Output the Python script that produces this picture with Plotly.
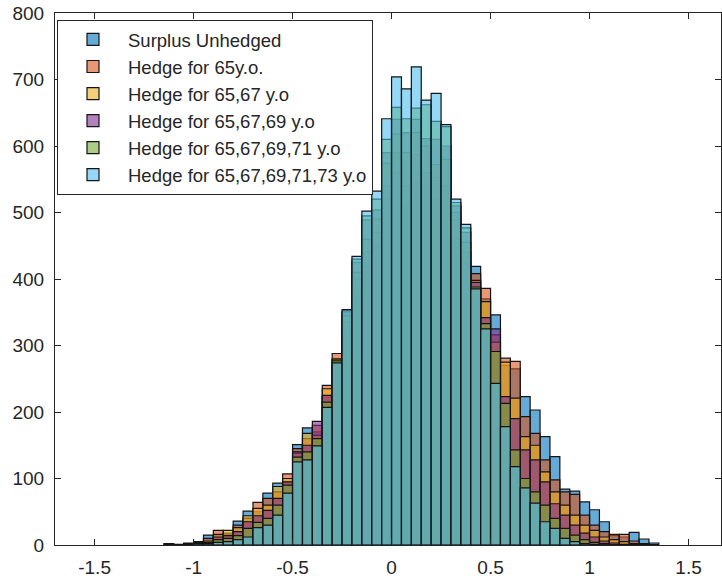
import plotly.graph_objects as go

# ---- data ----
bin_width = 0.05
first_edge = -1.15
n_bins = 50
bin_centers = [round(first_edge + bin_width * (i + 0.5), 4) for i in range(n_bins)]

series_names = [
    "Surplus Unhedged",
    "Hedge for 65y.o.",
    "Hedge for 65,67 y.o",
    "Hedge for 65,67,69 y.o",
    "Hedge for 65,67,69,71 y.o",
    "Hedge for 65,67,69,71,73 y.o",
]

unhedged = [2, 0, 3, 5, 15, 14, 16, 36, 51, 50, 78, 93, 95, 151, 176, 170, 222, 270,
            320, 380, 420, 450, 520, 560, 510, 545, 540, 520, 520, 460, 425,
            419, 370, 346, 270, 265, 223, 203, 163, 133, 84, 81, 65, 53, 35, 14, 12, 19, 9, 3]
hedge_65 = [0, 1, 2, 4, 10, 22, 18, 30, 40, 64, 70, 80, 107, 145, 160, 180, 240, 288,
            336, 400, 440, 470, 540, 590, 540, 587, 560, 553, 540, 489, 440,
            408, 386, 316, 281, 276, 193, 168, 128, 98, 80, 76, 45, 30, 20, 16, 16, 6, 2, 0]
hedge_65_67 = [0, 0, 2, 3, 6, 16, 22, 26, 44, 55, 60, 88, 100, 138, 168, 165, 235, 280,
               345, 410, 460, 490, 574, 618, 590, 620, 600, 572, 580, 500, 455,
               398, 366, 305, 275, 221, 163, 150, 110, 80, 60, 45, 30, 22, 12, 8, 5, 2, 0, 0]
hedge_65_69 = [0, 0, 1, 3, 4, 12, 14, 20, 35, 44, 52, 70, 95, 140, 150, 186, 225, 276,
               350, 425, 489, 504, 590, 640, 620, 640, 611, 610, 600, 510, 470,
               395, 342, 325, 223, 190, 143, 128, 95, 62, 45, 30, 18, 12, 6, 3, 1, 0, 0, 0]
hedge_65_71 = [0, 0, 1, 2, 3, 8, 10, 14, 25, 34, 40, 60, 90, 132, 140, 160, 215, 278,
               352, 430, 495, 520, 610, 658, 641, 657, 662, 637, 629, 515, 477,
               388, 333, 291, 213, 143, 100, 80, 60, 40, 25, 15, 8, 4, 2, 0, 0, 0, 0, 0]
hedge_65_73 = [0, 0, 1, 2, 2, 4, 5, 8, 12, 26, 30, 45, 78, 125, 128, 149, 207, 274,
               354, 434, 502, 532, 641, 704, 686, 719, 669, 679, 632, 520, 482,
               385, 325, 243, 178, 118, 86, 63, 35, 25, 10, 5, 2, 1, 0, 0, 0, 0, 0, 0]

all_series = [unhedged, hedge_65, hedge_65_67, hedge_65_69, hedge_65_71, hedge_65_73]

x_tick_vals = [-1.5, -1, -0.5, 0, 0.5, 1, 1.5]
x_tick_text = ["-1.5", "-1", "-0.5", "0", "0.5", "1", "1.5"]
y_tick_vals = [0, 100, 200, 300, 400, 500, 600, 700, 800]

# ---- style ----
colors = [
    (0, 114, 189),
    (217, 83, 25),
    (237, 177, 32),
    (126, 47, 142),
    (119, 172, 48),
    (77, 190, 238),
]
alpha = 0.6
axis_color = "#262626"
font_family = "Liberation Sans, Arial, sans-serif"

fig = go.Figure()
for i, (name, vals) in enumerate(zip(series_names, all_series)):
    r, g, b = colors[i]
    fig.add_trace(go.Bar(
        x=bin_centers,
        y=vals,
        width=bin_width,
        name=name,
        marker=dict(color=f"rgba({r},{g},{b},{alpha})",
                    line=dict(color="rgba(20,20,20,1)", width=1.2)),
    ))

fig.update_layout(
    width=722, height=582,
    margin=dict(l=55, r=1, t=13, b=37),
    barmode="overlay",
    plot_bgcolor="white",
    paper_bgcolor="white",
    font=dict(family=font_family, size=18, color=axis_color),
    showlegend=True,
    legend=dict(
        x=0.003, y=0.987, xanchor="left", yanchor="top",
        bgcolor="white", bordercolor=axis_color, borderwidth=1,
        font=dict(size=18.5, color=axis_color),
        itemwidth=60,
        itemclick=False, itemdoubleclick=False,
    ),
    xaxis=dict(
        range=[-1.7, 1.664],
        tickvals=x_tick_vals, ticktext=x_tick_text,
        ticks="inside", ticklen=6, tickcolor=axis_color,
        showline=True, linecolor=axis_color, linewidth=1, mirror="ticks",
        showgrid=False, zeroline=False,
        tickfont=dict(size=19, color=axis_color),
        ticklabelstandoff=5,
    ),
    yaxis=dict(
        range=[0, 800],
        tickvals=y_tick_vals,
        ticks="inside", ticklen=6, tickcolor=axis_color,
        showline=True, linecolor=axis_color, linewidth=1, mirror="ticks",
        showgrid=False, zeroline=False,
        tickfont=dict(size=19, color=axis_color),
        ticklabelstandoff=6,
    ),
)

fig.write_html("out.html")
